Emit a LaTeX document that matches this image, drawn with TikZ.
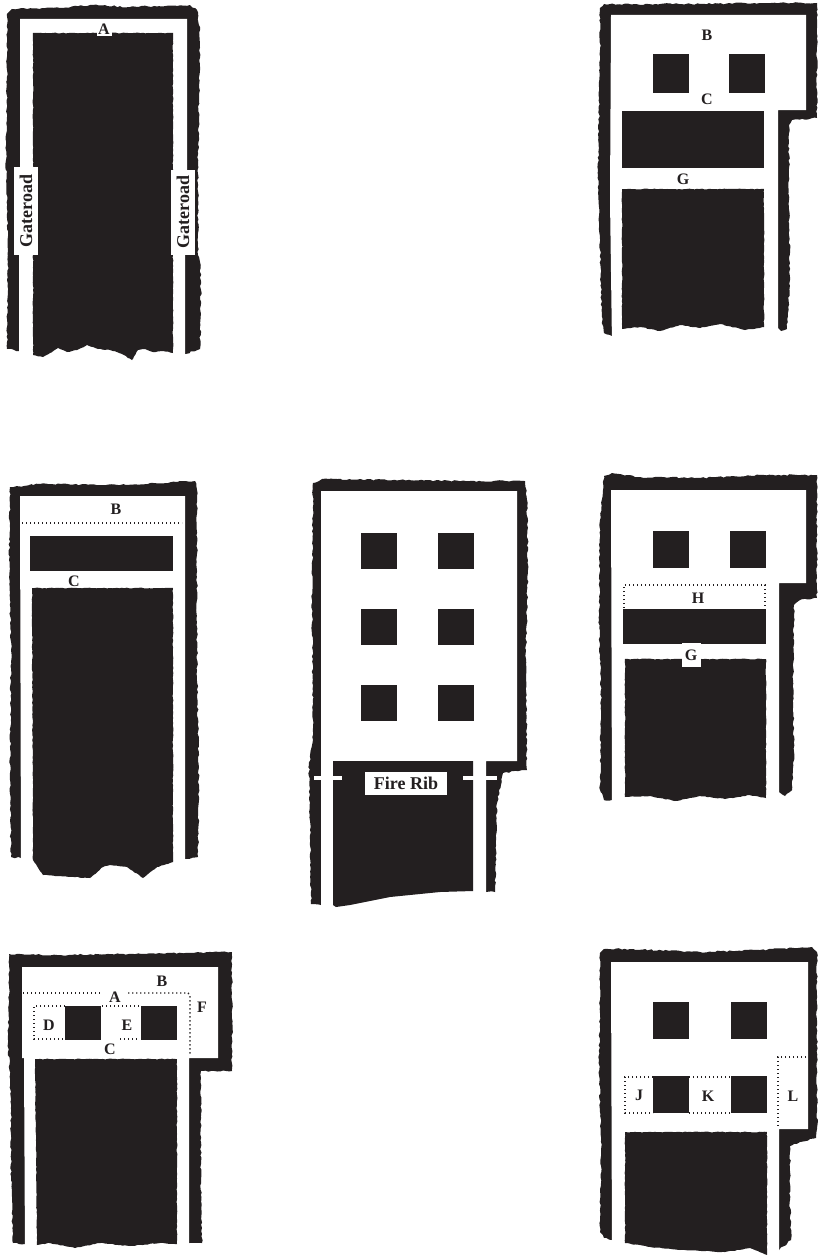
\documentclass[tikz,border=0pt]{standalone}
\usepackage{xcolor}
\usepackage{fontspec}
\setmainfont{Liberation Serif}
\usepackage{tikz}
\usetikzlibrary{decorations.pathmorphing}
\definecolor{minedark}{HTML}{231F20}
\tikzset{
  rock/.style={fill=minedark},
  roughrock/.style={fill=minedark, decorate, decoration={random steps, segment length=3pt, amplitude=0.8pt}},
  panelrock/.style={fill=minedark, decorate, decoration={random steps, segment length=2.5pt, amplitude=0.4pt}},
  entry/.style={fill=white},
  dotrule/.style={draw=minedark, line width=1.4pt, dash pattern=on 1.4pt off 2.6pt},
  lab/.style={font=\fontsize{16}{16}\selectfont\bfseries, text=minedark, inner sep=0.5pt},
  labbox/.style={lab, fill=white, inner sep=1.5pt},
  bigbox/.style={font=\fontsize{18}{18}\selectfont\bfseries, text=minedark, fill=white, inner sep=0pt}
}
\begin{document}
\begin{tikzpicture}[x=1pt,y=-1pt]
\pgfmathsetseed{7}
\useasboundingbox (0,0) rectangle (817,1255);
\fill[white] (0,0) rectangle (817,1255);

\fill[roughrock] (7,14) -- (12,9) -- (60,8) -- (90,5) -- (130,7) -- (190,5) -- (197,10) -- (200,30) -- (199,100) -- (198,165) -- (198,255) -- (200,262) -- (201,290) -- (200,349) -- (185,354) -- (19,351) -- (7,349) -- (8,250) -- (6,160) -- (7,80) -- cycle;
\fill[entry] (20,19) -- (187,19) -- (187,170) -- (185,170) -- (185,362) -- (19,362) -- (19,170) -- (20,170) -- cycle;
\fill[panelrock] (33,33) -- (173,33) -- (173,353) -- (163,351) -- (153,352) -- (145,349) -- (138,350) -- (132,360) -- (122,354) -- (110,350) -- (98,349) -- (87,345) -- (77,350) -- (67,352) -- (58,348) -- (50,353) -- (43,357) -- (33,355) -- cycle;
\node[bigbox, rotate=90, minimum width=88, minimum height=24] (gateleft) at (26,211) {Gateroad};
\node[bigbox, rotate=90, minimum width=85, minimum height=24] (gateright) at (183,212) {Gateroad};
\node[labbox, minimum width=15, minimum height=13] (aone) at (104,29) {A};

\fill[roughrock] (600,8) -- (604,4) -- (700,4) -- (760,3) -- (817,3) -- (817,118) -- (792,120) -- (789,125) -- (789,200) -- (790,280) -- (787,329) -- (781,331) -- (778,328) -- (612,336) -- (604,333) -- (602,322) -- (600,250) -- (598,170) -- (600,60) -- cycle;
\fill[entry] (611,15) -- (806,15) -- (806,110) -- (778,110) -- (778,345) -- (612,345) -- (610,200) -- cycle;
\foreach \x/\y in {653/54,729/54} {\fill[rock] (\x,\y) rectangle +(36,39);}
\fill[rock] (622,111) rectangle (764,168);
\fill[panelrock] (622,189) -- (764,189) -- (764,327) -- (745,330) -- (720,324) -- (700,328) -- (680,325) -- (660,331) -- (640,327) -- (622,329) -- cycle;
\node[lab] (btwo) at (707,35) {B};
\node[lab] (ctwo) at (707,99) {C};
\node[lab] (gtwo) at (683,179) {G};

\fill[roughrock] (10,487) -- (40,484) -- (120,485) -- (195,481) -- (197,490) -- (197,650) -- (199,800) -- (198,857) -- (186,859) -- (21,858) -- (11,857) -- (10,780) -- (11,650) -- (9,560) -- cycle;
\fill[entry] (20,496) -- (185,496) -- (185,870) -- (21,870) -- cycle;
\fill[rock] (30,536) rectangle (173,571);
\fill[panelrock] (32,588) -- (173,588) -- (173,862) -- (157,867) -- (143,878) -- (127,867) -- (110,865) -- (103,867) -- (90,878) -- (60,876) -- (43,875) -- (33,860) -- cycle;
\draw[dotrule] (22,523) -- (182,523);
\node[lab] (bthree) at (116,509) {B};
\node[labbox, inner sep=0pt] (cthree) at (74,581) {C};

\fill[roughrock] (313,483) -- (322,479) -- (400,480) -- (470,481) -- (525,481) -- (527,500) -- (528,570) -- (526,650) -- (527,770) -- (503,773) -- (497,803) -- (496,850) -- (495,892) -- (486,892) -- (321,905) -- (311,904) -- (310,830) -- (309,765) -- (313,740) -- (312,600) -- cycle;
\fill[entry] (321,491) -- (517,491) -- (517,761) -- (486,761) -- (486,900) -- (321,915) -- cycle;
\foreach \x in {361,438} {\foreach \y in {533,609,685} {\fill[rock] (\x,\y) rectangle +(36,36);}}
\fill[rock] (333,761) -- (473,761) -- (473,891) -- (440,892) -- (390,897) -- (350,905) -- (336,907) -- (333,905) -- cycle;
\fill[entry] (314,776) rectangle (342,780);
\fill[entry] (463,776) rectangle (497,780);
\node[bigbox, minimum width=82, minimum height=23] (firerib) at (406,783) {Fire Rib};

\fill[roughrock] (604,476) -- (612,473) -- (640,477) -- (700,478) -- (760,475) -- (817,475) -- (817,598) -- (800,600) -- (794,605) -- (793,680) -- (794,760) -- (792,790) -- (785,796) -- (779,792) -- (612,800) -- (604,800) -- (600,790) -- (601,700) -- (599,620) -- (600,520) -- cycle;
\fill[entry] (611,490) -- (806,490) -- (806,583) -- (779,583) -- (779,810) -- (612,810) -- cycle;
\foreach \x/\y in {653/531,730/531} {\fill[rock] (\x,\y) rectangle +(36,37);}
\fill[rock] (623,609) rectangle (766,644);
\fill[panelrock] (625,659) -- (766,659) -- (766,798) -- (750,795) -- (725,799) -- (700,796) -- (675,801) -- (650,796) -- (625,797) -- cycle;
\draw[dotrule] (624,608) -- (624,585) -- (765,585) -- (765,608);
\node[lab] (hfive) at (698,598) {H};
\node[labbox, minimum width=19, minimum height=24] (gfive) at (691,655) {G};

\fill[roughrock] (9,954) -- (60,955) -- (120,954) -- (232,952) -- (232,1071) -- (201,1071) -- (201,1180) -- (202,1243) -- (189,1243) -- (25,1244) -- (13,1243) -- (11,1180) -- (11,1100) -- (8,1040) -- (9,980) -- cycle;
\fill[entry] (22,967) -- (218,967) -- (218,1058) -- (189,1058) -- (189,1255) -- (25,1255) -- (24,1058) -- (22,1058) -- cycle;
\fill[panelrock] (35,1059) -- (177,1059) -- (177,1244) -- (160,1243) -- (130,1246) -- (100,1243) -- (75,1248) -- (50,1243) -- (37,1245) -- cycle;
\foreach \x/\y in {65/1006,141/1006} {\fill[rock] (\x,\y) rectangle +(36,34);}
\draw[dotrule] (23,993) -- (102,993);
\draw[dotrule] (128,993) -- (188,993) -- (190,995) -- (190,1056);
\draw[dotrule] (65,1006) -- (34,1006) -- (34,1039) -- (65,1039);
\draw[dotrule] (102,1006) -- (139,1006);
\draw[dotrule] (120,1039) -- (139,1039);
\node[lab] (asix) at (115,997) {A};
\node[lab] (bsix) at (162,981) {B};
\node[labbox, inner sep=0pt] (csix) at (110,1049) {C};
\node[lab] (dsix) at (49,1025) {D};
\node[lab] (esix) at (127,1025) {E};
\node[lab] (fsix) at (202,1007) {F};

\fill[roughrock] (600,953) -- (604,949) -- (630,949) -- (700,952) -- (760,950) -- (812,947) -- (817,952) -- (817,1129) -- (816,1138) -- (800,1142) -- (790,1146) -- (790,1200) -- (791,1240) -- (779,1250) -- (612,1240) -- (604,1238) -- (600,1232) -- (601,1150) -- (599,1060) -- (600,1000) -- cycle;
\fill[entry] (611,962) -- (808,962) -- (808,1129) -- (779,1129) -- (779,1255) -- (612,1255) -- cycle;
\foreach \x/\y in {653/1002,731/1002,653/1076,731/1076} {\fill[rock] (\x,\y) rectangle +(36,37);}
\fill[panelrock] (625,1132) -- (767,1132) -- (767,1255) -- (750,1248) -- (725,1252) -- (680,1250) -- (650,1247) -- (625,1243) -- cycle;
\draw[dotrule] (653,1077) -- (625,1077) -- (625,1113) -- (653,1113);
\draw[dotrule] (689,1077) -- (731,1077);
\draw[dotrule] (689,1113) -- (731,1113);
\draw[dotrule] (806,1057) -- (778,1057) -- (778,1128);
\node[lab] (jseven) at (639,1095) {J};
\node[lab] (kseven) at (708,1096) {K};
\node[lab] (lseven) at (793,1096) {L};
\end{tikzpicture}
\end{document}
